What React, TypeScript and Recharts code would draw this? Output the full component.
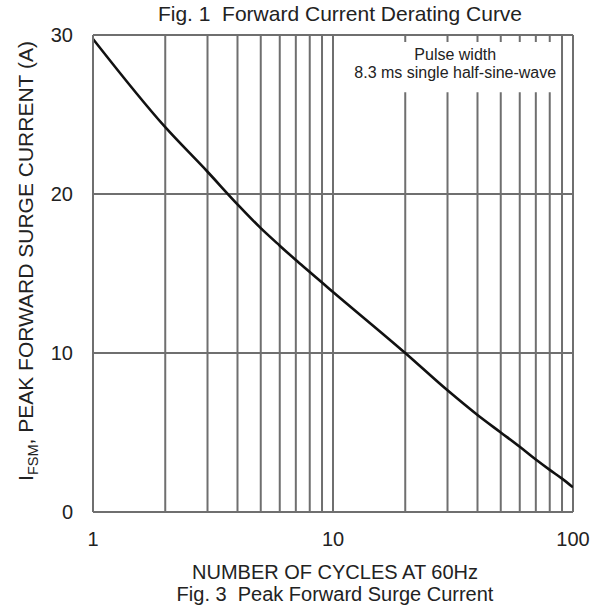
import React from 'react';
import { LineChart, Line, XAxis, YAxis, ReferenceLine, ReferenceArea, Label } from 'recharts';

const CYCLES = [1, 2, 3, 4, 5, 6, 7, 8, 9, 10, 20, 30, 40, 50, 60, 70, 80, 90, 100];
const CURRENT = [29.75, 24.2, 21.4, 19.35, 17.85, 16.75, 15.85, 15.1, 14.43, 13.84, 10.0, 7.65, 6.1, 5.0, 4.1, 3.3, 2.65, 2.1, 1.55];
const X_TICKS = [1, 10, 100];
const Y_TICKS = [0, 10, 20, 30];
const V_GRID_FULL = [2, 3, 4, 5, 6, 7, 8, 9, 10, 90];
const V_GRID_BROKEN = [20, 30, 40, 50, 60, 70, 80];
const H_GRID = [10, 20];
const BREAK_LOW = 26.4;
const BREAK_HIGH = 29.56;
const NOTE_X = [12, 87];

const TITLE = 'Fig. 1  Forward Current Derating Curve';
const X_TITLE = 'NUMBER OF CYCLES AT 60Hz';
const CAPTION = 'Fig. 3  Peak Forward Surge Current';
const NOTE1 = 'Pulse width';
const NOTE2 = '8.3 ms single half-sine-wave';

const data = CYCLES.map((x, i) => ({ x, y: CURRENT[i] }));

const FONT = '"Liberation Sans", Arial, Helvetica, sans-serif';
const GRID = '#6f6f6f';
const TEXT = '#222';

const NoteLabel = (props: any) => {
  const vb = props.viewBox || {};
  const cx = vb.x + vb.width / 2;
  return (
    <g>
      <text x={cx} y={vb.y + 18} textAnchor="middle" fontSize={16} fontFamily={FONT} fill={TEXT}>{NOTE1}</text>
      <text x={cx} y={vb.y + 36} textAnchor="middle" fontSize={16} fontFamily={FONT} fill={TEXT}>{NOTE2}</text>
    </g>
  );
};

const YLabel = () => {
  const x = 33;
  const y = 261;
  return (
    <text x={x} y={y} transform={`rotate(-90 ${x} ${y})`} textAnchor="middle" fontSize={21} fontFamily={FONT} fill={TEXT}>
      <tspan>I</tspan>
      <tspan dy={5} fontSize={14.5}>FSM</tspan>
      <tspan dy={-5}>, PEAK FORWARD SURGE CURRENT (A)</tspan>
    </text>
  );
};

const XLabel = () => {
  const cx = 335;
  return (
    <g>
      <text x={cx} y={579} textAnchor="middle" fontSize={20} fontFamily={FONT} fill={TEXT}>{X_TITLE}</text>
      <text x={cx} y={601} textAnchor="middle" fontSize={20} fontFamily={FONT} fill={TEXT} style={{ whiteSpace: 'pre' }}>{CAPTION}</text>
    </g>
  );
};

export default function App() {
  return (
    <div style={{ position: 'absolute', left: 0, top: 0, width: 592, height: 607, background: '#fff' }}>
      <div style={{ position: 'absolute', left: 0, top: 2, width: 680, textAlign: 'center', fontFamily: FONT, fontSize: 21, color: TEXT, lineHeight: '23px', whiteSpace: 'pre' }}>
        {TITLE}
      </div>
      <LineChart width={592} height={607} data={data} margin={{ top: 35, right: 19, bottom: 55, left: 33 }}>
        <XAxis
          dataKey="x"
          type="number"
          scale="log"
          domain={[1, 100]}
          ticks={X_TICKS}
          allowDataOverflow
          height={40}
          tickSize={0}
          tickMargin={20}
          axisLine={{ stroke: GRID, strokeWidth: 2 }}
          tickLine={false}
          tick={{ fontSize: 20, fill: TEXT, fontFamily: FONT }}
          label={{ content: XLabel }}
        />
        <YAxis
          type="number"
          domain={[0, 30]}
          ticks={Y_TICKS}
          width={60}
          tickSize={0}
          tickMargin={20}
          axisLine={{ stroke: GRID, strokeWidth: 2 }}
          tickLine={false}
          tick={{ fontSize: 20, fill: TEXT, fontFamily: FONT }}
          label={{ content: YLabel }}
        />
        {V_GRID_FULL.map((v) => (
          <ReferenceLine key={'v' + v} x={v} stroke={GRID} strokeWidth={2} />
        ))}
        {V_GRID_BROKEN.map((v) => (
          <ReferenceLine key={'vl' + v} segment={[{ x: v, y: 0 }, { x: v, y: BREAK_LOW }]} stroke={GRID} strokeWidth={2} />
        ))}
        {V_GRID_BROKEN.map((v) => (
          <ReferenceLine key={'vh' + v} segment={[{ x: v, y: BREAK_HIGH }, { x: v, y: 30 }]} stroke={GRID} strokeWidth={2} />
        ))}
        {H_GRID.map((v) => (
          <ReferenceLine key={'h' + v} y={v} stroke={GRID} strokeWidth={2} />
        ))}
        <ReferenceLine y={30} stroke={GRID} strokeWidth={2} />
        <ReferenceLine x={100} stroke={GRID} strokeWidth={2} />
        <ReferenceArea x1={NOTE_X[0]} x2={NOTE_X[1]} y1={BREAK_LOW} y2={BREAK_HIGH} fill="#ffffff" fillOpacity={0} stroke="none">
          <Label content={NoteLabel} />
        </ReferenceArea>
        <Line
          type="monotone"
          dataKey="y"
          stroke="#111"
          strokeWidth={2.6}
          dot={false}
          activeDot={false}
          isAnimationActive={false}
        />
      </LineChart>
    </div>
  );
}
